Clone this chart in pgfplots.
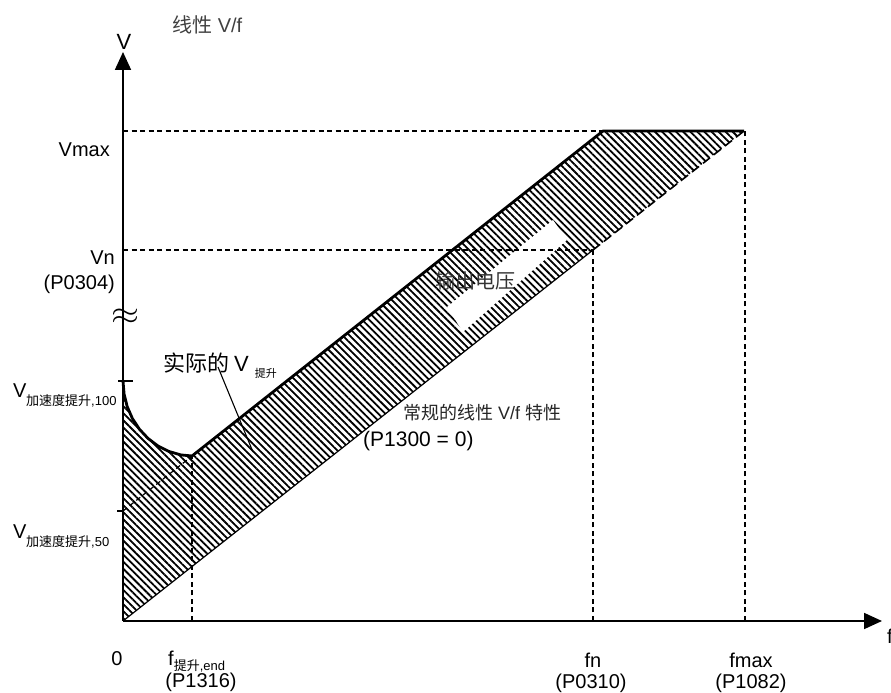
\documentclass[border=0pt]{standalone}
\usepackage{fontspec}
\setmainfont{Liberation Sans}
\newfontfamily\cjk{Noto Sans CJK SC}
\usepackage{pgfplots}
\pgfplotsset{compat=1.18}
\usetikzlibrary{arrows.meta,patterns.meta}
\newcommand\sz[1]{\fontsize{#1}{#1}\selectfont}
\begin{document}
\begin{tikzpicture}
\useasboundingbox (-123pt,-72pt) rectangle (768pt,621pt);
\begin{axis}[x=1pt,y=1pt,xmin=-123,xmax=768,ymin=-72,ymax=621,
  hide axis,clip=false,anchor=origin,at={(0pt,0pt)}]
% hatched band
\addplot[draw=none, pattern={Lines[angle=-45,distance=5pt,line width=1.8pt]}, pattern color=black]
  coordinates {(0,0) (0,240) (1.1,227) (4.2,214.4) (9.4,202.5) (16.4,191.8) (25,182.6) (35,175) (46.1,169.5) (57.8,166.1) (69,165) (480,490) (621,490) (0,0)};
% white gap in hatching
\addplot[fill=white, draw=none] coordinates {(324,314) (340,289) (444,381) (430,401)};
% dashed guides
\addplot[black, line width=1.2pt, dash pattern=on 5pt off 3.5pt] coordinates {(0,490) (480,490)};
\addplot[black, line width=1.2pt, dash pattern=on 5pt off 3.5pt] coordinates {(622,0) (622,490)};
\addplot[black, line width=1.2pt, dash pattern=on 5pt off 3.5pt] coordinates {(0,371) (470,371)};
\addplot[black, line width=1.2pt, dash pattern=on 5pt off 3.5pt] coordinates {(470,0) (470,371)};
\addplot[black, line width=1.2pt, dash pattern=on 5pt off 3.5pt] coordinates {(69,0) (69,165)};
\addplot[black, line width=1.2pt, dash pattern=on 5pt off 3.5pt] coordinates {(0,110) (69,165)};
% regular linear V/f
\addplot[black, line width=1.2pt] coordinates {(0,0) (470,371)};
\addplot[black, line width=1.6pt, dash pattern=on 9pt off 5pt] coordinates {(470,371) (621,490)};
% output voltage with boost
\addplot[black, line width=2.8pt, line join=round] coordinates {(0,240) (1.1,227) (4.2,214.4) (9.4,202.5) (16.4,191.8) (25,182.6) (35,175) (46.1,169.5) (57.8,166.1) (69,165) (480,490) (621,490)};
% axes
\addplot[black, line width=1.8pt, -{Triangle[width=16pt,length=18pt]}] coordinates {(0,0) (0,569)};
\addplot[black, line width=1.8pt, -{Triangle[width=16pt,length=18pt]}] coordinates {(0,0) (759,0)};
% ticks
\addplot[black, line width=1.6pt] coordinates {(-5,240) (10,240)};
\addplot[black, line width=1.6pt] coordinates {(-6,110) (0,110)};
% pointer
\addplot[black, line width=1.1pt] coordinates {(95,254) (130,169)};
% break symbol
\node[inner sep=0pt] at (axis cs:2,304) {\scalebox{3.6}[3.2]{$\approx$}};
% texts
\node[anchor=base west, font=\sz{20}, text=black!75, inner sep=0pt] at (axis cs:49,588) {{\cjk 线性} V/f};
\node[anchor=base, font=\sz{22}, inner sep=0pt] at (axis cs:1,571) {V};
\node[anchor=north west, font=\sz{20}, inner sep=0pt] at (axis cs:764,-8) {f};
\node[anchor=base east, font=\sz{20}, inner sep=0pt] at (axis cs:-13,464) {Vmax};
\node[anchor=base east, font=\sz{20}, inner sep=0pt] at (axis cs:-8,356) {Vn};
\node[anchor=base east, font=\sz{20}, inner sep=0pt] at (axis cs:-8,331) {(P0304)};
\node[anchor=base west, font=\sz{20}, inner sep=0pt] at (axis cs:-110,223) {V};
\node[anchor=base west, font=\sz{13}, inner sep=0pt] at (axis cs:-97,215) {{\cjk 加速度提升},100};
\node[anchor=base west, font=\sz{20}, inner sep=0pt] at (axis cs:-110,82) {V};
\node[anchor=base west, font=\sz{13}, inner sep=0pt] at (axis cs:-97,74) {{\cjk 加速度提升},50};
\node[anchor=base west, font=\sz{22}, inner sep=0pt] at (axis cs:40,249) {{\cjk 实际的}\hspace{5pt}V\hspace{6pt}\raisebox{-6pt}{\sz{11}\cjk 提升}};
\node[anchor=base west, font=\sz{18}, text=black!85, inner sep=0pt] at (axis cs:280,201) {{\cjk 常规的线性} V/f {\cjk 特性}};
\node[anchor=base west, font=\sz{21}, inner sep=0pt] at (axis cs:240,174) {(P1300 = 0)};
\node[anchor=base west, font=\sz{20}, text=black!80, inner sep=0pt] at (axis cs:312,332) {\cjk 输出电压};
% x labels
\node[anchor=base, font=\sz{20}, inner sep=0pt] at (axis cs:-6,-44) {0};
\node[anchor=base west, font=\sz{20}, inner sep=0pt] at (axis cs:45,-44) {f\raisebox{-5pt}{\sz{13}{\cjk 提升},end}};
\node[anchor=base, font=\sz{20}, inner sep=0pt] at (axis cs:78,-66) {(P1316)};
\node[anchor=base, font=\sz{20}, inner sep=0pt] at (axis cs:470,-46) {fn};
\node[anchor=base, font=\sz{20}, inner sep=0pt] at (axis cs:468,-67) {(P0310)};
\node[anchor=base, font=\sz{20}, inner sep=0pt] at (axis cs:628,-46) {fmax};
\node[anchor=base, font=\sz{20}, inner sep=0pt] at (axis cs:628,-67) {(P1082)};
\end{axis}
\end{tikzpicture}
\end{document}
